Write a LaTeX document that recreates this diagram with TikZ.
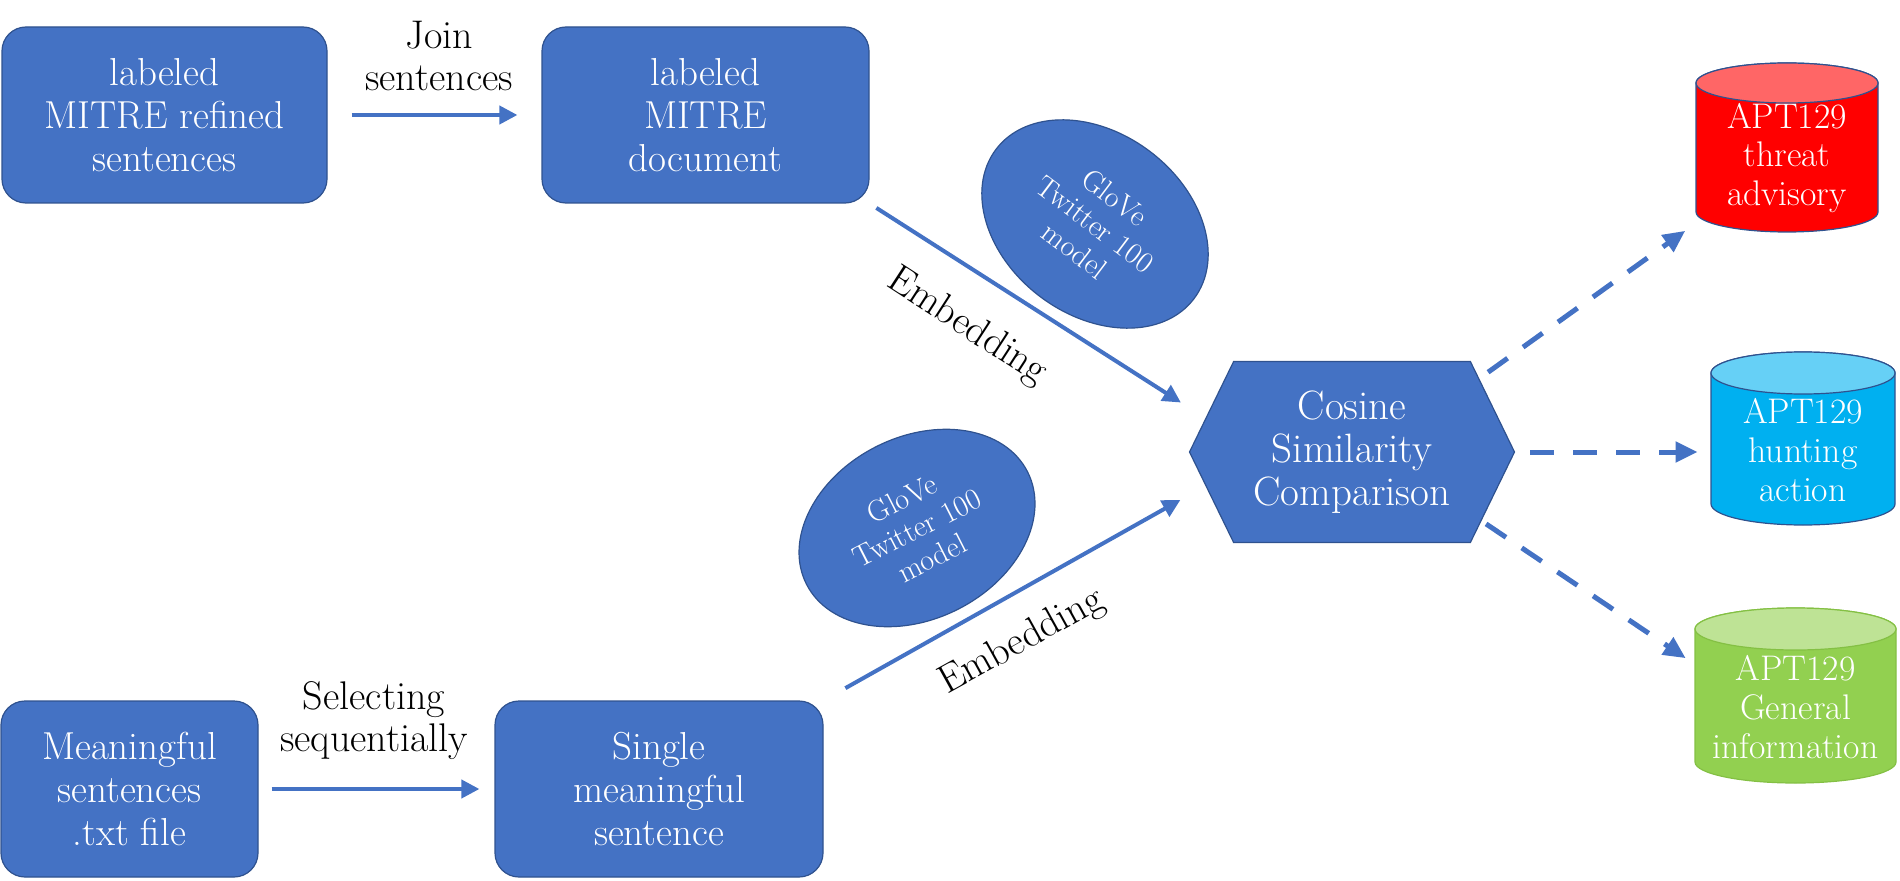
\documentclass[tikz,border=0pt]{standalone}
\usepackage{tikz}
\usetikzlibrary{shapes}
\usetikzlibrary{arrows}
\usetikzlibrary{arrows.meta}

\definecolor{boxblue}{HTML}{4472C4}
\definecolor{boxline}{HTML}{2F528F}
\definecolor{advred}{HTML}{FF0000}
\definecolor{advredtop}{HTML}{FF6666}
\definecolor{huntcyan}{HTML}{00B0F0}
\definecolor{huntcyantop}{HTML}{66D0F6}
\definecolor{infogreen}{HTML}{92D050}
\definecolor{infogreentop}{HTML}{BEE395}
\definecolor{infoline}{HTML}{84C044}

\begin{document}
\begin{tikzpicture}[x=0.5pt,y=0.5pt]
				\tikzstyle{stepbox}=[rectangle, rounded corners=12pt, draw=boxline, line width=0.6pt, fill=boxblue, text=white, align=center, minimum height=88pt, font=\fontsize{19.5}{21.5}\selectfont]
				\tikzstyle{model}=[ellipse, draw=boxline, line width=0.6pt, fill=boxblue, text=white, align=center, inner sep=0pt, minimum width=124pt, minimum height=91pt, font=\fontsize{15}{16.5}\selectfont]
				\tikzstyle{compare}=[signal, signal to=east and west, signal pointer angle=128, draw=boxline, line width=0.6pt, fill=boxblue, text=white, align=center, inner sep=0pt, minimum width=162.5pt, minimum height=90.5pt, font=\fontsize{20.5}{21.5}\selectfont]
				\tikzstyle{canister}=[draw=boxline, line width=0.6pt]
				\tikzstyle{store}=[rectangle, text=white, align=center, inner sep=0pt, minimum height=65pt, font=\fontsize{17.8}{19.3}\selectfont]
				\tikzstyle{lbl}=[align=center, font=\fontsize{20}{21}\selectfont]
				\tikzstyle{flow}=[draw=boxblue, line width=2pt, -{Triangle[length=9pt,width=9pt]}]
				\tikzstyle{result}=[draw=boxblue, line width=2.5pt, dash pattern=on 12pt off 9.5pt, -{Triangle[length=11pt,width=10pt]}]
				
				\useasboundingbox (0,0) rectangle (1900,880);
				
				\node[stepbox, minimum width=162.5pt] (refined) at (164.5,765) {labeled\\MITRE refined\\sentences};
				\node[stepbox, minimum width=163.5pt] (mdoc) at (705.5,765) {labeled\\MITRE\\document};
				\node[stepbox, minimum width=128.5pt] (meaning) at (129.5,91) {Meaningful\\sentences\\.txt file};
				\node[stepbox, minimum width=164pt] (single) at (659,91) {Single\\meaningful\\sentence};
				\node[model, rotate=-37] (gloveA) at (1095,656) {GloVe\\Twitter 100\\model};
				\node[model, rotate=27] (gloveB) at (917,352) {GloVe\\Twitter 100\\model};
				\node[compare] (cosine) at (1352,428) {Cosine\\Similarity\\Comparison};
				
				\draw[canister, fill=advred] (1696,797) -- (1696,668) arc[start angle=180, end angle=360, x radius=91, y radius=20] -- (1878,797) arc[start angle=0, end angle=180, x radius=91, y radius=20] -- cycle;
				\draw[canister, fill=advredtop] (1787,797) ellipse[x radius=91, y radius=20];
				\draw[canister, fill=huntcyan] (1711,507) -- (1711,376) arc[start angle=180, end angle=360, x radius=92, y radius=21] -- (1895,507) arc[start angle=0, end angle=180, x radius=92, y radius=21] -- cycle;
				\draw[canister, fill=huntcyantop] (1803,507) ellipse[x radius=92, y radius=21];
				\draw[canister, draw=infoline, fill=infogreen] (1695,251) -- (1695,118) arc[start angle=180, end angle=360, x radius=100.5, y radius=21] -- (1896,251) arc[start angle=0, end angle=180, x radius=100.5, y radius=21] -- cycle;
				\draw[canister, draw=infoline, fill=infogreentop] (1795.5,251) ellipse[x radius=100.5, y radius=21];
				
				\node[store, minimum width=91pt] (advisory) at (1787,722) {APT129\\threat\\advisory};
				\node[store, minimum width=92pt] (hunting) at (1803,430) {APT129\\hunting\\action};
				\node[store, minimum width=100.5pt] (general) at (1795.5,173) {APT129\\General\\information};
				
				\node[lbl] (join) at (439,824) {Join\\sentences};
				\node[lbl] (select) at (374,159) {Selecting\\sequentially};
				\node[lbl, font=\fontsize{20}{24}\selectfont, rotate=-33] (embedA) at (967,553) {Embedding};
				\node[lbl, font=\fontsize{20}{24}\selectfont, rotate=29] (embedB) at (1022,238) {Embedding};
				
				\draw[flow, shorten <=12pt, shorten >=12pt] (refined) -- (mdoc);
				\draw[flow, shorten <=6.5pt, shorten >=7.5pt] (meaning) -- (single);
				\draw[flow, shorten <=4pt, shorten >=14.5pt] (mdoc.south east) -- (cosine.167);
				\draw[flow, shorten <=12.5pt, shorten >=14.3pt] (single.north east) -- (cosine.193);
				\draw[result, shorten <=5.4pt, shorten >=6.4pt] (cosine.30) -- (advisory.south west);
				\draw[result, shorten <=7.5pt, shorten >=6.5pt] (cosine.east) -- (cosine.east -| hunting.west);
				\draw[result, shorten <=2.7pt, shorten >=5.4pt] (cosine.332) -- (general.157);
\end{tikzpicture}
\end{document}
